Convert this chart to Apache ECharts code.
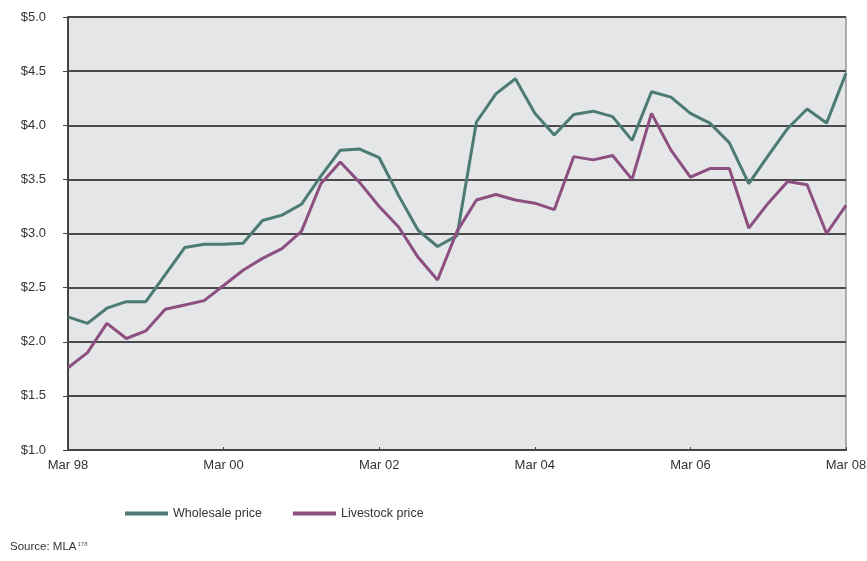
<!DOCTYPE html>
<html lang="en">
<head>
	<meta charset="UTF-8">
	<title>Wholesale and livestock price</title>
	<script src="https://cdn.jsdelivr.net/npm/echarts@6/dist/echarts.min.js"></script>
	<style>
		html, body {margin: 0; padding: 0; background: #fff;}
		#chart {width: 867px; height: 561px;}
	</style>
</head>
<body>
<div id="chart"></div>
<script>
	// quarterly, Mar 98 .. Mar 08
	let months = ['Mar', 'Jun', 'Sep', 'Dec'];
	let quarters = [];
	for (let y = 98; y <= 108; y++) {
		months.forEach(m => {
			if (quarters.length < 41) quarters.push(m + ' ' + String(y % 100).padStart(2, '0'));
		});
	}

	let wholesale = [2.23, 2.17, 2.31, 2.37, 2.37, 2.62, 2.87, 2.90, 2.90, 2.91,
		3.12, 3.17, 3.27, 3.53, 3.77, 3.78, 3.70, 3.35, 3.03, 2.88,
		2.98, 4.03, 4.29, 4.43, 4.11, 3.91, 4.10, 4.13, 4.08, 3.86,
		4.31, 4.26, 4.11, 4.02, 3.84, 3.46, 3.72, 3.97, 4.15, 4.02, 4.48];

	let livestock = [1.76, 1.90, 2.17, 2.03, 2.10, 2.30, 2.34, 2.38, 2.52, 2.66,
		2.77, 2.86, 3.02, 3.46, 3.66, 3.47, 3.25, 3.06, 2.78, 2.57,
		3.02, 3.31, 3.36, 3.31, 3.28, 3.22, 3.71, 3.68, 3.72, 3.50,
		4.11, 3.77, 3.52, 3.60, 3.60, 3.05, 3.28, 3.48, 3.45, 3.00, 3.26];

	let seriesNames = ['Wholesale price', 'Livestock price'];
	let colors = ['#4b7b72', '#8c4f80'];

	let font = '"Liberation Sans", Arial, sans-serif';

	let chart = echarts.init(document.getElementById('chart'));
	let options = {
		animation: false,
		textStyle: {fontFamily: font},
		grid: {
			left: 68, right: 21, top: 17, bottom: 111,
			outerBoundsMode: 'none',
			containLabel: false,
			show: true,
			backgroundColor: '#e5e6e8',
			borderColor: '#666',
			borderWidth: 1
		},
		legend: {
			left: 120, top: 502,
			icon: 'rect',
			itemWidth: 43, itemHeight: 4,
			itemGap: 31,
			textStyle: {fontFamily: font, fontSize: 12.5, color: '#333'},
			data: seriesNames
		},
		graphic: [{
			type: 'text', left: 10, top: 541,
			style: {
				text: 'Source: MLA{s|178}',
				font: '11.5px ' + font,
				fill: '#333',
				rich: {s: {fontSize: 6, verticalAlign: 'top', padding: [0, 0, 6, 1], fill: '#555'}}
			}
		}],
		xAxis: {
			type: 'category',
			boundaryGap: false,
			data: quarters,
			axisLine: {lineStyle: {color: '#444', width: 2}},
			axisTick: {show: true, inside: true, length: 3, interval: 7, lineStyle: {color: '#444'}},
			axisLabel: {interval: 7, color: '#333', fontSize: 13, margin: 9}
		},
		yAxis: {
			type: 'value',
			min: 1, max: 5, interval: 0.5,
			axisLine: {show: true, lineStyle: {color: '#444', width: 2}},
			axisTick: {show: true, length: 5, lineStyle: {color: '#444'}},
			axisLabel: {
				color: '#333', fontSize: 13, margin: 22,
				formatter: v => '$' + v.toFixed(1)
			},
			splitLine: {lineStyle: {color: '#4a4a4a', width: 2}}
		},
		series: [
			{
				name: seriesNames[0],
				type: 'line',
				data: wholesale,
				showSymbol: false,
				itemStyle: {color: colors[0]},
				lineStyle: {color: colors[0], width: 3}
			},
			{
				name: seriesNames[1],
				type: 'line',
				data: livestock,
				showSymbol: false,
				itemStyle: {color: colors[1]},
				lineStyle: {color: colors[1], width: 3}
			}
		]
	};
	chart.setOption(options);
</script>
</body>
</html>
